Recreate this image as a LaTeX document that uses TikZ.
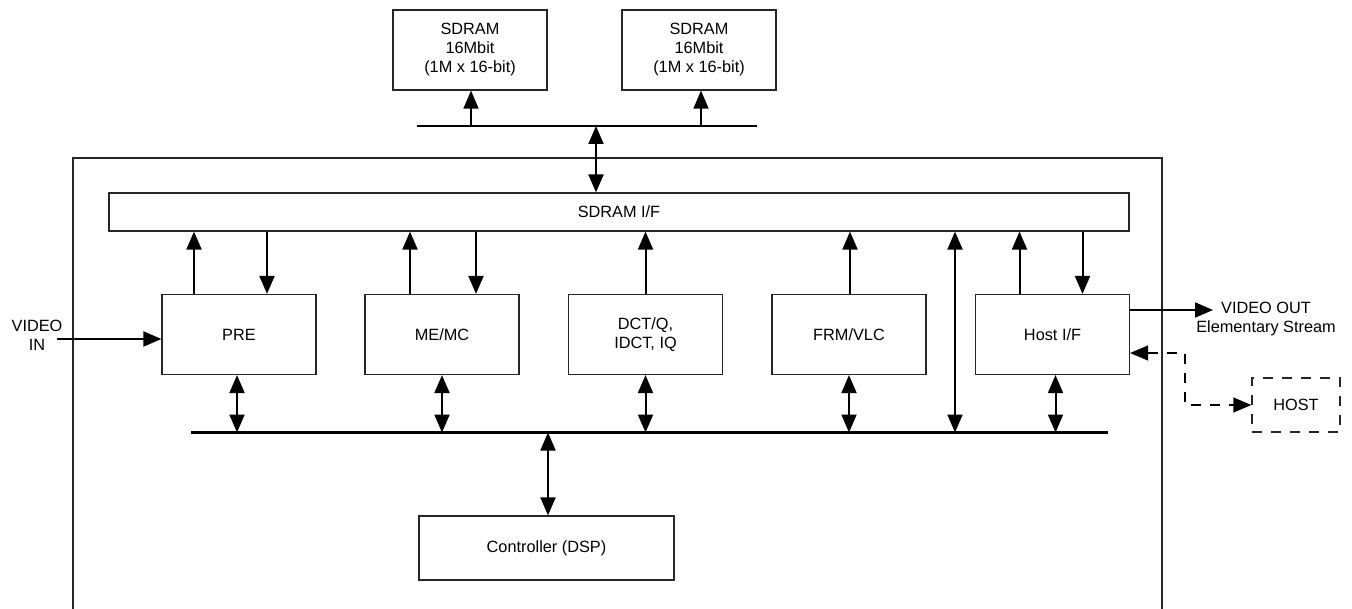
\documentclass[tikz,border=0pt]{standalone}
\usepackage{fontspec}
\setmainfont{Liberation Sans}
\usetikzlibrary{arrows.meta,calc}
\begin{document}
\begin{tikzpicture}[x=1pt,y=-1pt,
  font=\fontsize{16.3}{19}\selectfont,
  blk/.style={draw=black!85,line width=1.2pt,align=center,inner sep=0pt},
  arr/.style={line width=2pt,-{Triangle[length=18pt,width=15pt]}},
  darr/.style={line width=2pt,{Triangle[length=18pt,width=15pt]}-{Triangle[length=18pt,width=15pt]}},
  thinarr/.style={line width=1.4pt,-{Triangle[length=18pt,width=15pt]}},
  bus/.style={line width=2.2pt},
  dsh/.style={line width=1.4pt,dash pattern=on 10pt off 9pt}]
\useasboundingbox (0,0) rectangle (1352,609);
% outer chip outline
\draw[line width=1.2pt,black!85] (73,609) -- (73,158) -- (1162,158) -- (1162,609);
% SDRAM chips
\node[blk,minimum width=154pt,minimum height=80pt] (sd1) at (470,50) {\raisebox{-2pt}{}SDRAM\\16Mbit\\(1M x 16-bit)};
\node[blk,minimum width=154pt,minimum height=80pt] (sd2) at (699,50) {SDRAM\\16Mbit\\(1M x 16-bit)};
% SDRAM I/F
\node[blk,minimum width=1020pt,minimum height=38pt] (sdif) at (619,212) {SDRAM I/F};
% processing blocks
\node[blk,minimum width=154pt,minimum height=80pt] (pre) at (239,334.5) {PRE};
\node[blk,minimum width=154pt,minimum height=80pt] (me) at (442,334.5) {ME/MC};
\node[blk,minimum width=154pt,minimum height=80pt] (dct) at (645.5,334.5) {DCT/Q,\\IDCT, IQ};
\node[blk,minimum width=154pt,minimum height=80pt] (frm) at (849,334.5) {FRM/VLC};
\node[blk,minimum width=154pt,minimum height=80pt] (hif) at (1052.5,334.5) {Host I/F};
% controller
\node[blk,minimum width=255pt,minimum height=64pt] (ctl) at (546.5,548) {Controller (DSP)};
% HOST
\node[draw=black!85,dsh,minimum width=88pt,minimum height=54pt,inner sep=0pt] (host) at (1296,405) {HOST};
% labels
\node[align=center,inner sep=0pt] (vin) at (37,335) {VIDEO\\IN};
\node[align=center,inner sep=0pt] (vout) at (1266,319) {VIDEO OUT\\Elementary Stream};
% buses
\coordinate (tbl) at (417,126);
\coordinate (tbr) at (757,126);
\coordinate (bbl) at (191,432.5);
\coordinate (bbr) at (1108,432.5);
\draw[bus] (tbl) -- (tbr);
\draw[bus] (bbl) -- (bbr);
% SDRAM bus connections
\draw[thinarr] ([xshift=1pt]sd1.south |- tbl) -- ([xshift=1pt]sd1.south);
\draw[thinarr] ([xshift=2pt]sd2.south |- tbl) -- ([xshift=2pt]sd2.south);
\draw[darr] ([xshift=-23pt]sdif.north |- tbl) -- ([xshift=-23pt]sdif.north);
% SDRAM I/F <-> blocks
\draw[arr] ([xshift=-45pt]pre.north) -- ([xshift=-45pt]pre.north |- sdif.south);
\draw[arr] ([xshift=28pt]pre.north |- sdif.south) -- ([xshift=28pt]pre.north);
\draw[arr] ([xshift=-32pt]me.north) -- ([xshift=-32pt]me.north |- sdif.south);
\draw[arr] ([xshift=34pt]me.north |- sdif.south) -- ([xshift=34pt]me.north);
\draw[arr] (dct.north) -- (dct.north |- sdif.south);
\draw[arr] ([xshift=1pt]frm.north) -- ([xshift=1pt]frm.north |- sdif.south);
\coordinate (lng) at (955,231);
\draw[darr] (lng |- sdif.south) -- (lng |- bbl);
\draw[arr] ([xshift=-33pt]hif.north) -- ([xshift=-33pt]hif.north |- sdif.south);
\draw[arr] ([xshift=30pt]hif.north |- sdif.south) -- ([xshift=30pt]hif.north);
% blocks <-> bottom bus
\draw[darr] ([xshift=-2pt]pre.south) -- ([xshift=-2pt]pre.south |- bbl);
\draw[darr] (me.south) -- (me.south |- bbl);
\draw[darr] (dct.south) -- (dct.south |- bbl);
\draw[darr] (frm.south) -- (frm.south |- bbl);
\draw[darr] ([xshift=3pt]hif.south) -- ([xshift=3pt]hif.south |- bbl);
\draw[darr] ([xshift=1.5pt]ctl.north |- bbl) -- ([xshift=1.5pt]ctl.north);
% video in / out
\coordinate (vinend) at (57,339);
\draw[arr] (vinend) -- (vinend -| pre.west);
\coordinate (voutend) at (1213,310);
\draw[arr] (voutend -| hif.east) -- (voutend);
% host link (dashed)
\coordinate (hj) at (1185,380);
\draw[dsh,{Triangle[length=18pt,width=15pt]}-{Triangle[length=18pt,width=15pt]}]
  ([yshift=-18.5pt]hif.east) -| (hj) |- (host.west);
\end{tikzpicture}
\end{document}
